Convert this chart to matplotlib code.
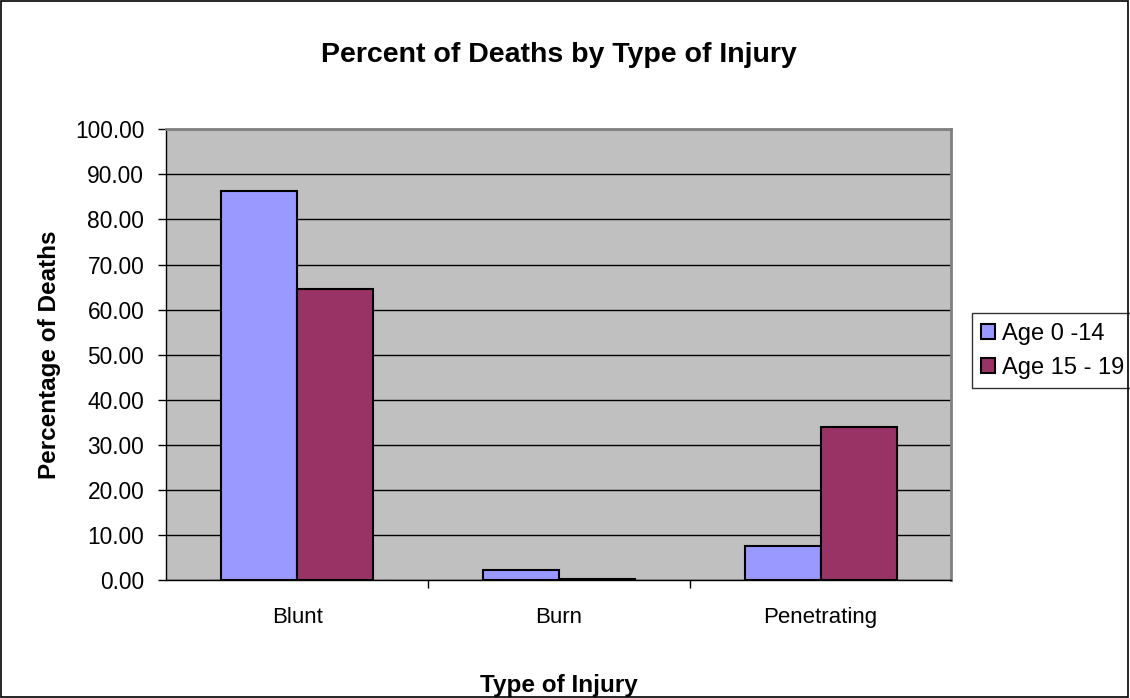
import numpy as np
import matplotlib.pyplot as plt
import matplotlib
from matplotlib.patches import Rectangle

matplotlib.rcParams['font.family'] = ['Liberation Sans', 'DejaVu Sans']

categories = ['Blunt', 'Burn', 'Penetrating']
series_names = ['Age 0 -14', 'Age 15 - 19']
age_0_14 = [86.3, 2.4, 7.7]
age_15_19 = [64.5, 0.4, 34.1]
colors = ['#9999FF', '#993366']

fig = plt.figure(figsize=(11.3, 6.98), dpi=100)
ax = fig.add_axes([0.1473, 0.1685, 0.6947, 0.6465])
ax.set_facecolor('#C0C0C0')

ind = np.arange(len(categories))
width = 0.29
ax.bar(ind - width / 2, age_0_14, width, color=colors[0], edgecolor='black',
       linewidth=1.5, label=series_names[0], zorder=3)
ax.bar(ind + width / 2, age_15_19, width, color=colors[1], edgecolor='black',
       linewidth=1.5, label=series_names[1], zorder=3)

ax.set_xlim(-0.5, len(categories) - 0.5)
ax.set_ylim(0, 100)
ax.set_yticks(np.arange(0, 101, 10))
ax.set_yticklabels(['%.2f' % v for v in np.arange(0, 101, 10)])
ax.set_xticks(ind)
ax.set_xticklabels(categories)
ax.set_xticks(np.arange(0.5, len(categories) - 0.5, 1), minor=True)
ax.tick_params(axis='x', which='major', length=0, pad=19, labelsize=16)
ax.tick_params(axis='x', which='minor', length=6, width=1, direction='out')
ax.tick_params(axis='y', length=6, width=1, direction='out', labelsize=16.4, pad=10)
ax.yaxis.grid(True, color='black', linewidth=1, zorder=1)
ax.set_axisbelow(True)

for side in ['top', 'right']:
    ax.spines[side].set_color('#808080')
    ax.spines[side].set_linewidth(2)
for side in ['left', 'bottom']:
    ax.spines[side].set_color('black')
    ax.spines[side].set_linewidth(1)

ax.set_title('Percent of Deaths by Type of Injury', fontsize=20.5,
             fontweight='bold', pad=48)
ax.set_ylabel('Percentage of Deaths', fontsize=17.5, fontweight='bold', labelpad=10)
ax.set_xlabel('Type of Injury', fontsize=17.5, fontweight='bold', labelpad=33)

leg = ax.legend(loc='upper left', bbox_to_anchor=(0.8598, 0.551),
                bbox_transform=fig.transFigure, fontsize=17, frameon=True,
                fancybox=False, edgecolor='black', borderpad=0.4,
                handlelength=0.6, handleheight=0.6, handletextpad=0.3,
                labelspacing=0.5, borderaxespad=0)
leg.get_frame().set_linewidth(1)

fig.patches.append(Rectangle((0.0005, 0.001), 0.998, 0.998, transform=fig.transFigure,
                             fill=False, edgecolor='black', linewidth=1.2))

plt.savefig('out.png', dpi=100)
